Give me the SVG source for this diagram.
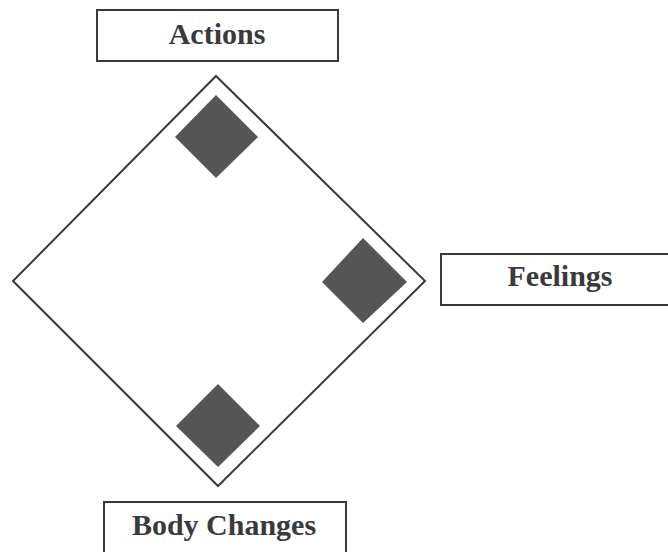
<svg xmlns="http://www.w3.org/2000/svg" width="668" height="552" viewBox="0 0 668 552">
<style>
.box{fill:#fff;stroke:#3a3a3a;stroke-width:2}
.lbl{font-family:"Liberation Serif","Times New Roman",serif;font-weight:bold;font-size:30px;fill:#3a3a3a;text-anchor:middle}
.marker{fill:#555}
.frame{fill:none;stroke:#3a3a3a;stroke-width:2;stroke-linejoin:miter}
</style>
<rect width="668" height="552" fill="#fff"/>
<g id="connectors">
<polygon class="frame" points="216,76 425,281 218,486 13,281"/>
</g>
<g id="marker-top"><polygon class="marker" points="216,95 258,137 216,178 175,137"/></g>
<g id="marker-right"><polygon class="marker" points="363,238 407,282 363,323 322,282"/></g>
<g id="marker-bottom"><polygon class="marker" points="218,384 260,426 218,467 176,426"/></g>
<g id="actions">
<rect class="box" x="97" y="10" width="241" height="51"/>
<text class="lbl" x="217" y="44">Actions</text>
</g>
<g id="feelings">
<rect class="box" x="441" y="254" width="240" height="51"/>
<text class="lbl" x="560" y="286">Feelings</text>
</g>
<g id="body-changes">
<rect class="box" x="104" y="502" width="242" height="60"/>
<text class="lbl" x="224" y="535">Body Changes</text>
</g>
</svg>
